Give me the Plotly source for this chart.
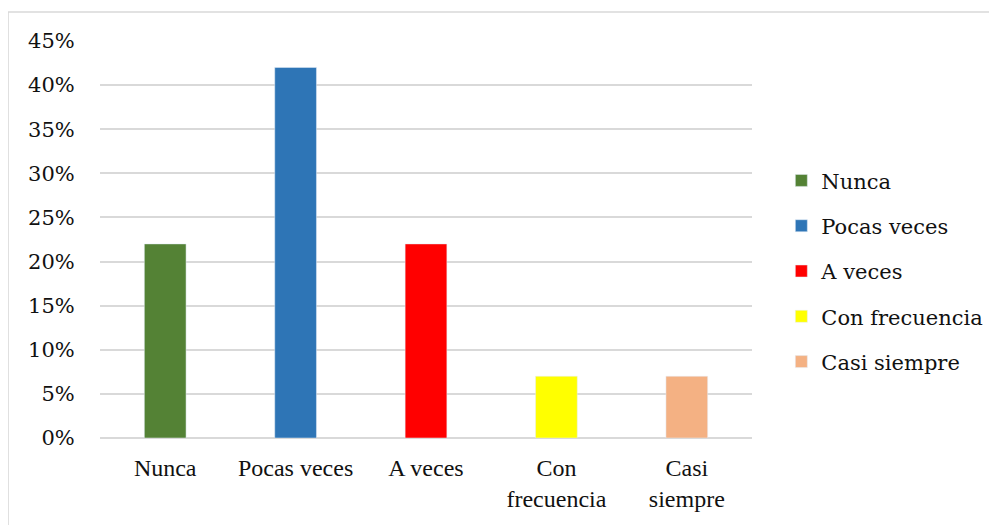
import plotly.graph_objects as go

# Categories and percentages
categorias = ["Nunca", "Pocas veces", "A veces", "Con frecuencia", "Casi siempre"]
etiquetas_x = ["Nunca", "Pocas veces", "A veces", "Con<br>frecuencia", "Casi<br>siempre"]
porcentajes = [22, 42, 22, 7, 7]
colores = ["#548235", "#2e75b6", "#ff0000", "#ffff00", "#f4b183"]
ticks_y = [0, 5, 10, 15, 20, 25, 30, 35, 40, 45]
textos_y = [f"{v}%" for v in ticks_y]

letra = dict(family="Liberation Serif", size=24, color="#111111")
# Liberation Serif falls back to sans in the legend / y ticks here, so use DejaVu Serif
letra_alt = dict(family="DejaVu Serif", size=21, color="#111111")

fig = go.Figure()
for cat, lab, val, col in zip(categorias, etiquetas_x, porcentajes, colores):
    fig.add_trace(go.Bar(x=[lab], y=[val], name=cat, marker_color=col,
                         legendgroup=cat, hoverinfo="skip"))

# note: the page body has an 8px margin, so margins are shifted by 8
fig.update_layout(
    width=997, height=525,
    barmode="relative", bargap=0.68,
    paper_bgcolor="white", plot_bgcolor="white",
    font=letra,
    margin=dict(l=92, r=253, t=33, b=95),
    legend=dict(x=1.045, y=0.42, yanchor="middle", xanchor="left",
                traceorder="grouped", tracegroupgap=15, font=letra_alt),
    shapes=[dict(type="rect", xref="paper", yref="paper",
                 x0=-0.141, x1=1.5, y0=-0.3, y1=1.073,
                 line=dict(color="#d9d9d9", width=1.5))],
)
fig.update_yaxes(range=[0, 45], tickvals=ticks_y, ticktext=textos_y, tickfont=letra_alt,
                 showgrid=True, gridcolor="#d9d9d9", gridwidth=1.5,
                 zeroline=True, zerolinecolor="#d9d9d9", zerolinewidth=1.5,
                 showline=True, linecolor="white", linewidth=1,
                 ticks="outside", ticklen=20, tickcolor="rgba(0,0,0,0)")
fig.update_xaxes(showgrid=False, showline=False, tickfont=letra, tickangle=0,
                 ticks="outside", ticklen=8, tickcolor="rgba(0,0,0,0)")

fig.write_html("out.html")
